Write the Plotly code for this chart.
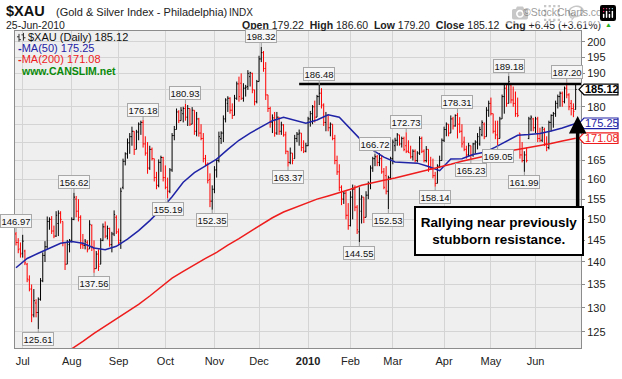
import math
import pandas as pd
import plotly.graph_objects as go

# ---------------- data ----------------
holidays = ["2009-07-03", "2009-09-07", "2009-11-26", "2009-12-25", "2010-01-01",
            "2010-01-18", "2010-02-15", "2010-04-02", "2010-05-31"]
dates = [d.strftime("%Y-%m-%d") for d in pd.bdate_range("2009-06-26", "2010-06-25")
         if d.strftime("%Y-%m-%d") not in holidays]

opens = [
    146.5, 144.5, 143.0, 142.0, 142.5, 139.5, 136.0, 134.0, 128.5, 131.0,
    129.0, 131.8, 135.8, 141.5, 143.5, 149.5, 150.0, 147.2, 146.0, 149.0,
    151.5, 149.5, 144.5, 139.5, 144.0, 145.0, 150.0, 155.0, 152.0, 150.5,
    144.0, 143.8, 144.5, 143.0, 148.5, 143.0, 138.5, 141.8, 139.5, 145.0,
    148.2, 146.0, 147.8, 144.0, 146.5, 150.5, 147.0, 145.0, 158.0, 164.8,
    166.8, 169.8, 171.5, 173.0, 168.0, 172.8, 175.0, 175.5, 169.5, 167.0,
    163.0, 168.0, 165.5, 160.5, 158.5, 164.5, 165.8, 160.5, 158.0, 157.0,
    162.5, 171.8, 173.5, 178.5, 176.0, 178.0, 179.5, 177.0, 179.5, 175.0,
    179.0, 173.0, 176.5, 172.5, 171.0, 165.5, 164.0, 160.0, 154.5, 157.5,
    162.5, 165.0, 171.0, 172.5, 176.5, 181.0, 182.5, 179.0, 177.5, 182.5,
    186.8, 187.0, 182.5, 185.5, 186.0, 189.0, 190.0, 185.0, 181.5, 187.5,
    194.5, 196.5, 191.5, 183.5, 179.5, 175.5, 176.8, 172.5, 177.0, 173.0,
    174.8, 172.0, 167.5, 164.5, 167.0, 165.5, 171.0, 172.2, 172.5, 168.5,
    167.5, 169.0, 176.5, 178.0, 180.0, 177.0, 183.0, 184.0, 180.5, 175.5,
    177.5, 174.0, 175.0, 171.0, 165.0, 162.0, 158.0, 155.0, 156.5, 151.0,
    148.5, 155.5, 157.5, 153.0, 147.0, 152.0, 155.5, 150.5, 156.0, 159.0,
    163.0, 165.5, 166.0, 164.5, 165.5, 162.0, 161.0, 157.0, 160.5, 165.5,
    169.0, 170.5, 172.0, 169.5, 171.0, 169.0, 167.5, 167.0, 166.0, 167.5,
    165.0, 167.0, 171.0, 167.5, 165.0, 168.0, 163.0, 162.8, 161.0, 159.0,
    163.5, 165.0, 170.5, 173.5, 175.0, 172.5, 176.5, 174.5, 177.5, 175.0,
    173.0, 170.0, 168.0, 166.5, 169.0, 166.5, 169.5, 170.0, 169.5, 172.0,
    175.0, 171.5, 179.0, 181.0, 178.0, 173.0, 172.0, 171.0, 176.5, 183.0,
    185.5, 181.0, 186.5, 182.0, 181.0, 178.0, 172.5, 166.5, 165.0, 166.5,
    171.0, 176.5, 176.5, 174.0, 176.5, 171.0, 170.5, 173.5, 169.5, 168.5,
    175.5, 177.5, 178.0, 181.0, 183.0, 184.0, 181.5, 185.5, 183.5, 181.0,
    179.5, 179.22]
highs = [
    146.97, 145.5, 144.5, 146.3, 142.8, 139.8, 137.0, 135.0, 134.0, 131.8,
    132.2, 136.4, 142.2, 144.8, 150.7, 150.5, 150.8, 148.5, 152.0, 152.2,
    152.0, 149.5, 144.5, 145.1, 145.3, 150.5, 156.62, 155.8, 155.0, 151.0,
    146.5, 145.3, 145.0, 149.8, 148.8, 145.0, 142.5, 142.9, 145.5, 149.0,
    149.5, 148.5, 148.0, 147.0, 152.2, 151.0, 147.8, 157.9, 165.5, 167.2,
    171.0, 172.5, 174.3, 173.0, 173.4, 175.5, 176.0, 176.18, 171.6, 170.0,
    169.0, 168.5, 165.5, 162.0, 165.3, 166.3, 166.0, 163.7, 160.5, 163.0,
    172.5, 174.5, 179.5, 179.0, 179.9, 180.0, 180.93, 180.5, 179.5, 179.9,
    179.0, 178.5, 176.8, 175.0, 172.5, 166.5, 164.5, 161.6, 158.5, 163.5,
    165.5, 172.9, 173.0, 177.5, 182.5, 183.1, 182.8, 181.0, 183.5, 187.5,
    189.0, 190.0, 187.0, 186.5, 191.0, 190.5, 190.2, 185.0, 188.0, 195.5,
    198.32, 197.0, 193.5, 183.5, 180.0, 177.8, 178.5, 178.5, 177.0, 175.7,
    175.0, 172.9, 167.6, 168.5, 167.0, 172.0, 172.8, 173.5, 172.5, 170.5,
    169.8, 177.1, 178.8, 180.5, 181.8, 183.5, 186.48, 185.5, 181.0, 178.5,
    177.5, 175.5, 175.0, 172.0, 166.3, 164.0, 158.5, 157.0, 157.0, 154.0,
    157.0, 158.7, 158.5, 153.5, 158.0, 156.0, 155.5, 157.0, 159.5, 163.7,
    166.0, 166.72, 166.5, 167.0, 166.5, 163.0, 163.5, 161.0, 166.0, 170.7,
    171.2, 172.5, 172.0, 171.5, 171.5, 172.73, 170.5, 169.0, 168.0, 168.0,
    167.5, 171.6, 171.5, 168.0, 168.9, 168.0, 166.0, 165.5, 162.0, 164.0,
    166.3, 171.0, 174.3, 175.5, 175.0, 177.5, 177.1, 177.8, 178.31, 177.0,
    175.0, 171.5, 169.0, 169.8, 169.0, 169.8, 170.5, 172.5, 174.3, 176.1,
    175.5, 179.9, 181.8, 182.7, 178.0, 176.0, 176.0, 177.1, 183.6, 186.6,
    186.5, 189.18, 187.0, 186.0, 184.5, 182.7, 172.5, 170.0, 167.5, 168.5,
    177.1, 177.5, 176.8, 177.1, 177.1, 174.0, 174.3, 174.0, 171.6, 176.0,
    177.8, 178.5, 181.8, 183.6, 184.5, 184.5, 186.0, 187.2, 184.0, 182.0,
    181.0, 186.6]
lows = [
    143.8, 142.0, 141.0, 141.0, 139.3, 135.5, 133.5, 127.0, 128.0, 128.0,
    125.61, 131.5, 135.5, 140.0, 143.0, 147.5, 146.5, 145.5, 145.8, 146.0,
    149.0, 143.6, 138.2, 139.5, 142.2, 144.5, 149.8, 150.5, 149.5, 143.0,
    143.0, 142.9, 142.2, 143.0, 142.5, 137.56, 138.5, 138.0, 139.5, 144.8,
    145.5, 145.2, 143.5, 142.2, 146.0, 146.5, 143.8, 143.0, 157.5, 163.7,
    165.5, 166.8, 169.0, 166.5, 168.0, 170.5, 172.0, 168.5, 166.3, 161.5,
    162.5, 165.0, 159.5, 157.5, 158.0, 162.0, 159.5, 157.5, 155.19, 156.5,
    162.0, 170.5, 173.5, 175.3, 176.0, 175.5, 176.0, 174.5, 174.5, 175.0,
    172.0, 171.6, 171.5, 170.5, 164.5, 163.5, 159.0, 153.0, 152.35, 156.5,
    160.5, 164.5, 169.5, 170.0, 175.5, 178.5, 178.0, 176.5, 177.5, 182.0,
    181.5, 182.0, 181.5, 183.0, 185.0, 186.0, 184.0, 180.4, 181.0, 187.5,
    193.5, 190.5, 182.0, 178.5, 174.0, 172.5, 171.5, 172.0, 172.0, 172.0,
    171.5, 166.7, 163.37, 164.0, 164.0, 165.5, 170.0, 169.0, 167.5, 167.0,
    167.2, 168.9, 174.3, 175.0, 175.5, 177.0, 180.5, 179.5, 174.5, 173.0,
    173.0, 171.6, 170.5, 164.0, 161.2, 157.0, 153.5, 153.8, 150.0, 147.5,
    148.3, 150.0, 152.0, 146.5, 144.55, 149.0, 149.1, 150.5, 155.0, 157.5,
    162.0, 163.5, 163.5, 163.5, 161.5, 157.5, 156.2, 152.53, 160.0, 164.0,
    167.5, 169.0, 169.0, 168.5, 167.5, 167.0, 167.0, 165.5, 165.0, 164.5,
    164.5, 166.5, 167.0, 164.5, 164.5, 162.0, 162.5, 160.3, 158.14, 159.0,
    163.0, 165.0, 170.0, 171.6, 171.6, 172.5, 173.5, 174.3, 171.0, 172.5,
    168.5, 167.5, 165.5, 166.0, 165.23, 166.0, 166.8, 168.0, 169.0, 171.6,
    170.8, 171.5, 177.1, 177.5, 172.4, 170.8, 169.05, 171.0, 176.5, 178.0,
    180.0, 181.0, 181.0, 180.0, 177.1, 177.0, 165.5, 164.5, 161.99, 164.5,
    170.8, 173.0, 173.0, 172.5, 170.0, 170.0, 170.0, 168.9, 167.5, 168.0,
    173.0, 174.0, 177.1, 179.5, 180.0, 180.0, 181.0, 182.5, 179.0, 177.5,
    177.0, 179.2]
closes = [
    144.5, 142.8, 141.8, 144.8, 139.8, 136.2, 134.0, 128.5, 131.5, 129.0,
    131.8, 135.8, 141.5, 143.5, 149.5, 150.0, 147.2, 146.0, 151.0, 151.5,
    150.0, 144.5, 139.5, 144.5, 145.0, 150.0, 155.5, 152.0, 150.5, 144.0,
    143.8, 144.8, 142.8, 148.8, 143.5, 138.5, 141.8, 139.0, 145.0, 148.2,
    146.0, 147.8, 144.0, 146.5, 151.2, 147.0, 144.5, 157.0, 164.8, 166.8,
    169.8, 171.5, 173.0, 168.0, 172.8, 175.0, 175.5, 169.5, 167.0, 163.0,
    168.0, 165.5, 160.5, 158.5, 164.5, 165.8, 160.5, 158.0, 157.0, 162.5,
    171.8, 173.5, 178.5, 176.0, 179.0, 179.5, 177.0, 179.5, 175.0, 179.0,
    173.0, 176.5, 172.5, 171.0, 165.5, 164.0, 159.8, 154.5, 157.5, 162.5,
    165.0, 171.5, 172.5, 176.5, 182.0, 182.5, 179.0, 177.5, 182.5, 186.8,
    183.0, 182.5, 185.5, 185.8, 190.0, 190.2, 185.0, 181.5, 187.5, 194.5,
    196.5, 191.5, 183.5, 179.5, 175.5, 176.8, 172.5, 177.0, 173.0, 174.8,
    172.0, 167.5, 164.5, 167.0, 165.0, 171.0, 172.2, 172.5, 168.5, 167.5,
    169.0, 176.5, 178.0, 180.0, 177.0, 183.0, 184.0, 180.5, 175.5, 177.5,
    174.0, 175.0, 171.0, 165.0, 162.0, 158.0, 155.0, 156.5, 151.0, 148.5,
    155.5, 157.5, 153.0, 147.5, 155.0, 155.5, 150.5, 156.0, 159.0, 163.0,
    165.5, 166.0, 164.5, 165.5, 162.0, 158.0, 157.0, 160.5, 165.5, 170.0,
    170.5, 172.0, 169.5, 171.0, 168.0, 167.5, 167.2, 166.0, 167.5, 165.0,
    167.0, 171.0, 167.5, 165.0, 168.0, 163.0, 162.8, 161.0, 159.0, 163.5,
    165.0, 170.5, 173.5, 175.0, 172.5, 176.5, 174.5, 177.5, 175.0, 173.0,
    169.5, 168.0, 166.5, 169.0, 166.5, 169.5, 170.0, 171.5, 173.5, 175.5,
    171.5, 179.0, 181.0, 178.0, 173.0, 172.0, 171.0, 176.5, 183.0, 185.5,
    181.0, 187.5, 182.0, 181.0, 178.0, 177.5, 166.5, 165.0, 166.5, 165.0,
    176.5, 177.0, 174.0, 176.5, 171.0, 170.5, 174.0, 169.5, 168.5, 175.5,
    177.5, 178.0, 181.0, 183.0, 184.0, 181.5, 185.5, 183.5, 180.0, 179.5,
    178.67, 185.12]

# moving averages, one value every 5th trading day (+ last day)
ma_step = 5
ma50 = [138.7, 140.8, 142.0, 143.1, 144.3, 144.7, 144.3, 143.2, 142.8, 143.6,
        145.3, 147.3, 149.7, 152.4, 155.6, 159.3, 161.8, 163.6, 165.4, 168.0,
        170.5, 172.5, 174.3, 176.0, 177.0, 176.1, 175.3, 176.2, 177.7, 177.0,
        173.7, 170.4, 167.8, 165.9, 164.6, 164.4, 164.3, 163.4, 162.3, 165.4,
        165.5, 166.6, 167.2, 168.6, 170.3, 171.9, 172.1, 172.4, 173.1, 173.9,
        175.0, 175.25]
ma200_first_day = 20
ma200 = [120.2, 121.6, 123.1, 124.7, 126.2, 127.6, 129.1, 130.7, 132.5, 134.5,
         136.4, 137.9, 139.4, 140.8, 142.2, 143.9, 145.4, 147.0, 148.8, 150.4,
         151.8, 152.9, 154.0, 155.0, 155.8, 156.6, 157.5, 158.5, 159.2, 159.8,
         160.4, 161.1, 161.8, 162.4, 163.2, 164.0, 164.8, 165.5, 166.2, 166.9,
         167.5, 168.0, 168.5, 169.0, 169.6, 170.3, 170.9, 171.08]

tick_months = ["2009-07", "2009-08", "2009-09", "2009-10", "2009-11", "2009-12",
               "2010-01", "2010-02", "2010-03", "2010-04", "2010-05", "2010-06"]
tick_labels = ["Jul", "Aug", "Sep", "Oct", "Nov", "Dec", "<b>2010</b>",
               "Feb", "Mar", "Apr", "May", "Jun"]
price_ticks = [125, 130, 135, 140, 145, 150, 155, 160, 165, 170, 175, 180, 185, 190, 195, 200]

high_labels = ["2009-06-26", "2009-08-04", "2009-09-17", "2009-10-14", "2009-12-02",
               "2010-01-11", "2010-02-17", "2010-03-09", "2010-04-12", "2010-05-13",
               "2010-06-21"]
low_labels = ["2009-07-13", "2009-08-17", "2009-10-02", "2009-10-30", "2009-12-18",
              "2010-02-05", "2010-02-25", "2010-03-26", "2010-04-20", "2010-05-06",
              "2010-05-24"]
resistance_level = 186.8
resistance_start = "2009-12-28"
note_text = "Rallying near previously<br>stubborn resistance."

# ---------------- geometry helpers ----------------
W, H = 622, 379
PL, PR, PT, PB = 15, 581, 31, 359
Y0 = math.log10(121.8)
Y1 = math.log10(203.5)


def px(xp):
    return (xp - PL) / (PR - PL)


def py(yp):
    return 1 - (yp - PT) / (PB - PT)


def vy(v):
    return (math.log10(v) - Y0) / (Y1 - Y0)


n = len(dates)
up = [i for i in range(n) if (closes[i] >= closes[i - 1] if i > 0 else closes[i] >= opens[i])]
dn = [i for i in range(n) if i not in up]

fig = go.Figure()
for idxs, col in ((up, "#000000"), (dn, "#ff0000")):
    fig.add_trace(go.Ohlc(
        x=[dates[i] for i in idxs], open=[opens[i] for i in idxs],
        high=[highs[i] for i in idxs], low=[lows[i] for i in idxs],
        close=[closes[i] for i in idxs],
        increasing=dict(line=dict(color=col, width=1)),
        decreasing=dict(line=dict(color=col, width=1)),
        tickwidth=0.45, showlegend=False, hoverinfo="skip"))

ma50_x = dates[::ma_step] + [dates[-1]]
fig.add_trace(go.Scatter(x=ma50_x, y=ma50, mode="lines",
                         line=dict(color="#1f23a6", width=1.5), showlegend=False, hoverinfo="skip"))
ma200_x = dates[ma200_first_day::ma_step] + [dates[-1]]
fig.add_trace(go.Scatter(x=ma200_x, y=ma200, mode="lines",
                         line=dict(color="#ee1c1c", width=1.5), showlegend=False, hoverinfo="skip"))

tickvals = [next(d for d in dates if d.startswith(m)) for m in tick_months]
ticktext = ["" if (t in (170, 175, 185)) else str(t) for t in price_ticks]

fig.update_layout(
    width=W, height=H, margin=dict(l=PL, r=W - PR, t=PT, b=H - PB),
    paper_bgcolor="white", plot_bgcolor="#efefef",
    font=dict(family="Liberation Sans, Arial, sans-serif", color="#222"),
    xaxis=dict(type="category", categoryorder="array", categoryarray=dates,
               range=[-0.45, 253.4], tickvals=tickvals, ticktext=tick_labels,
               showgrid=True, gridcolor="#d4d4d4", gridwidth=1,
               showline=True, linecolor="#8c8c8c", mirror=True, ticks="",
               tickfont=dict(size=11, color="#222"), ticklabelstandoff=3,
               rangeslider=dict(visible=False), fixedrange=True),
    yaxis=dict(type="log", side="right", range=[Y0, Y1], tickvals=price_ticks,
               ticktext=ticktext, showgrid=True, gridcolor="#d4d4d4", gridwidth=1,
               showline=True, linecolor="#8c8c8c", mirror=True, ticks="outside",
               ticklen=3, tickcolor="#8c8c8c", tickfont=dict(size=11, color="#222"),
               zeroline=False, fixedrange=True),
)

ann = []
shapes = []


def text_at(x, y, text, size=11, color="#222", anchor="left", family=None):
    d = dict(xref="paper", yref="paper", x=px(x), y=py(y), text=text, showarrow=False,
             xanchor=anchor, yanchor="middle", font=dict(size=size, color=color),
             borderpad=0)
    if family:
        d["font"]["family"] = family
    ann.append(d)


# header
chg = closes[-1] - closes[-2]
pct = chg / closes[-2] * 100
date_txt = pd.Timestamp(dates[-1]).strftime("%d-%b-%Y")
text_at(5, 10, "<b>$XAU</b>", size=14.5, color="#111")
text_at(55, 11.5, "(Gold &amp; Silver Index - Philadelphia)", size=11, color="#222")
text_at(228, 11.5, "INDX", size=10, color="#222")
text_at(612, 11, "©StockCharts.com", size=10.5, color="#333", anchor="right")
text_at(5, 24.5, date_txt, size=10.5, color="#222")
text_at(602, 24.5, f"<b>Open</b> {opens[-1]:.2f}  <b>High</b> {highs[-1]:.2f}  <b>Low</b> {lows[-1]:.2f}"
                   f"  <b>Close</b> {closes[-1]:.2f}  <b>Chg</b> {chg:+.2f} ({pct:+.2f}%)",
        size=10.5, color="#222", anchor="right")
text_at(608.5, 24.5, "▲", size=7, color="#22b022", anchor="center")

# legend inside plot
text_at(27, 37, f"$XAU (Daily) {closes[-1]:.2f}", size=11, color="#111")
text_at(17, 48.5, f"<b>-</b>MA(50) {ma50[-1]:.2f}", size=11, color="#1f23a6")
text_at(17, 60, f"<b>-</b>MA(200) {ma200[-1]:.2f}", size=11, color="#ee1c1c")
text_at(20, 72, "<b>www.CANSLIM.net</b>", size=10.5, color="#0a8a0a")

# small ohlc icon
for path in ["M 19 34 L 19 42 M 17 37 L 19 37 M 19 40 L 21 40",
             "M 23.5 33 L 23.5 41 M 21.5 35 L 23.5 35 M 23.5 38 L 25.5 38"]:
    parts = path.split()
    conv = []
    i = 0
    while i < len(parts):
        conv.append(parts[i])
        conv.append(f"{px(float(parts[i + 1])):.5f}")
        conv.append(f"{py(float(parts[i + 2])):.5f}")
        i += 3
    shapes.append(dict(type="path", xref="paper", yref="paper", path=" ".join(conv),
                       line=dict(color="#333", width=1)))

# high / low value labels
for d in high_labels:
    i = dates.index(d)
    ann.append(dict(x=i, y=math.log10(highs[i]), xref="x", yref="y", text=f"{highs[i]:.2f}",
                    showarrow=True, arrowhead=0, arrowwidth=1, arrowcolor="#9a9a9a",
                    ax=0, ay=-10.5, font=dict(size=9.5, color="#111"), bgcolor="#f6f6f6",
                    bordercolor="#a8a8a8", borderwidth=1, borderpad=0.5))
for d in low_labels:
    i = dates.index(d)
    ann.append(dict(x=i, y=math.log10(lows[i]), xref="x", yref="y", text=f"{lows[i]:.2f}",
                    showarrow=True, arrowhead=0, arrowwidth=1, arrowcolor="#9a9a9a",
                    ax=0, ay=10.5, font=dict(size=9.5, color="#111"), bgcolor="#f6f6f6",
                    bordercolor="#a8a8a8", borderwidth=1, borderpad=0.5))

# resistance line
shapes.append(dict(type="line", xref="x", yref="paper", x0=dates.index(resistance_start),
                   x1=253.4, y0=vy(resistance_level), y1=vy(resistance_level),
                   line=dict(color="#000", width=2.5)))

# right-hand value tags
for v, col, bold in ((closes[-1], "#000000", True), (ma50[-1], "#1f23a6", False),
                     (ma200[-1], "#ee1c1c", False)):
    yc = vy(v)
    hh = 5.5 / (PB - PT)
    shapes.append(dict(type="path", xref="paper", yref="paper",
                       path=(f"M {px(579):.5f} {yc:.5f} L {px(584):.5f} {yc + hh:.5f} "
                             f"L {px(618):.5f} {yc + hh:.5f} L {px(618):.5f} {yc - hh:.5f} "
                             f"L {px(584):.5f} {yc - hh:.5f} Z"),
                       fillcolor="white", line=dict(color=col, width=1.2)))
    t = f"{v:.2f}"
    ann.append(dict(xref="paper", yref="paper", x=px(601.5), y=yc, showarrow=False,
                    text=f"<b>{t}</b>" if bold else t, xanchor="center", yanchor="middle",
                    font=dict(size=11, color=col), borderpad=0))

# note box and arrow
ann.append(dict(xref="x", yref="y", x=251.9, y=math.log10(177.3), text="", showarrow=True,
                arrowhead=2, arrowsize=1, arrowwidth=3.5, arrowcolor="#000",
                ax=0, ay=96, standoff=0))
ann.append(dict(xref="paper", yref="paper", x=px(499), y=py(238), text=f"<b>{note_text}</b>",
                showarrow=False, xanchor="center", yanchor="middle",
                font=dict(size=13.5, color="#000"), bgcolor="white", bordercolor="#000",
                borderwidth=2, borderpad=3, width=160, height=40, align="center"))

fig.update_layout(annotations=ann, shapes=shapes)
fig.write_html("out.html",
               post_script="document.body.style.margin='0';document.body.style.padding='0';")
